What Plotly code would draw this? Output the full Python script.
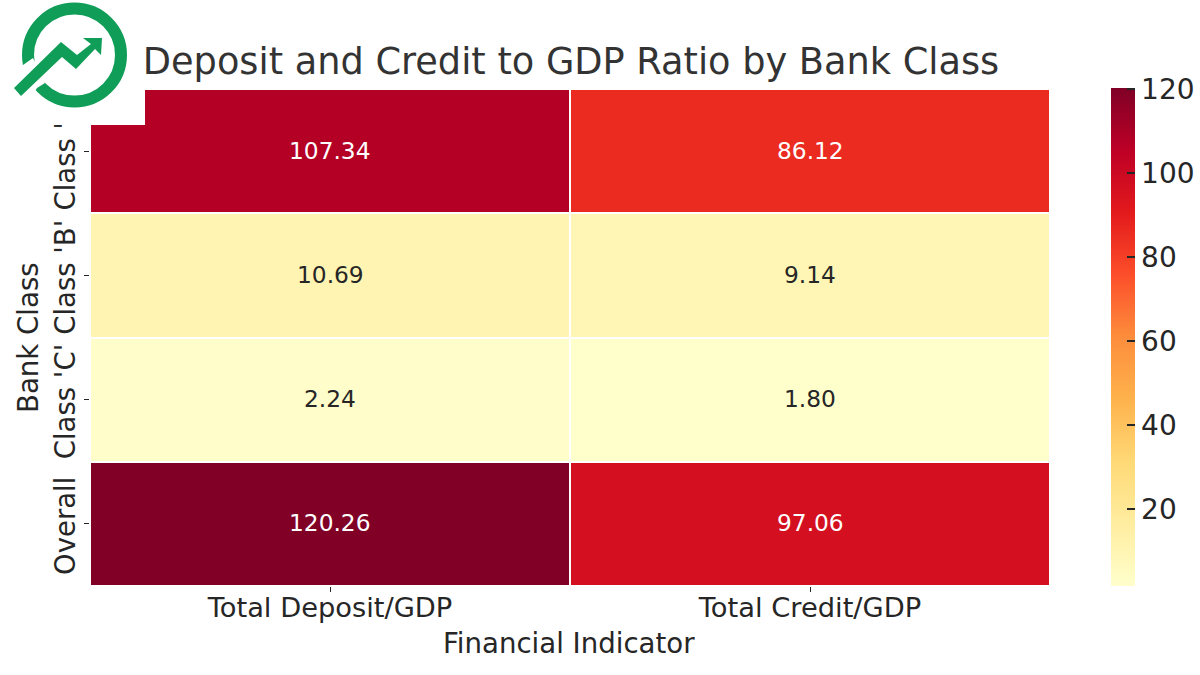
import plotly.graph_objects as go

indicators = ["Total Deposit/GDP", "Total Credit/GDP"]
bank_classes = ["Class 'A'", "Class 'B'", "Class 'C'", "Overall"]
deposit_gdp = [107.34, 10.69, 2.24, 120.26]
credit_gdp = [86.12, 9.14, 1.80, 97.06]
colorbar_ticks = [20, 40, 60, 80, 100, 120]

W, H = 1200, 675
LEFT, RIGHT, TOP, BOTTOM = 90, 1050, 89, 586  # plot area on the page
FONT = "DejaVu Sans"
INK = "#262626"
GREEN = "#0f9d58"
YLORRD = ["#ffffcc", "#ffeda0", "#fed976", "#feb24c", "#fd8d3c",
          "#fc4e2a", "#e31a1c", "#bd0026", "#800026"]


# page pixels to paper coordinates, paper runs over the plot area only
def px(x):
    return (x - LEFT) / (RIGHT - LEFT)


def py(y):
    return (BOTTOM - y) / (BOTTOM - TOP)


def path(points):
    parts = [f"{px(x):.5f},{py(y):.5f}" for x, y in points]
    return "M" + "L".join(parts) + "Z"


z = [[d, c] for d, c in zip(deposit_gdp, credit_gdp)]

fig = go.Figure(go.Heatmap(
    z=z, x=indicators, y=bank_classes,
    zmin=min(deposit_gdp + credit_gdp), zmax=max(deposit_gdp + credit_gdp),
    colorscale=YLORRD, xgap=2, ygap=2,
    colorbar=dict(
        xref="container", x=1111 / W, xanchor="left", y=0, yanchor="bottom",
        lenmode="pixels", len=498,
        thickness=24, xpad=0, ypad=0, outlinewidth=0,
        tickvals=colorbar_ticks, ticks="inside", ticklen=8, tickwidth=1.5,
        tickcolor=INK, tickfont=dict(family=FONT, size=28, color=INK),
    ),
))

# cell labels, white on the dark cells
for row, name in enumerate(bank_classes):
    for col, ind in enumerate(indicators):
        v = z[row][col]
        fig.add_annotation(x=ind, y=name, text=f"{v:.2f}", showarrow=False, yshift=1,
                           font=dict(family=FONT, size=23.3,
                                     color="white" if v > 60 else INK))

# axis titles
fig.add_annotation(xref="paper", yref="paper", x=px(569), y=py(643), text="Financial Indicator",
                   xanchor="center", yanchor="middle", showarrow=False,
                   font=dict(family=FONT, size=27.6, color=INK))
fig.add_annotation(xref="paper", yref="paper", x=px(28), y=py(337), text="Bank Class", textangle=-90,
                   xanchor="center", yanchor="middle", showarrow=False,
                   font=dict(family=FONT, size=27.6, color=INK))

# logo in the top left corner
fig.add_shape(type="rect", xref="paper", yref="paper", x0=px(0), x1=px(145),
              y0=py(125), y1=py(0), fillcolor="white", line_width=0, layer="above")
fig.add_shape(type="circle", xref="paper", yref="paper",
              x0=px(28), x1=px(121), y0=py(101.5), y1=py(8.5),
              fillcolor="rgba(0,0,0,0)", line=dict(color=GREEN, width=12), layer="above")
fig.add_shape(type="path", xref="paper", yref="paper", layer="above", line_width=0,
              fillcolor="white",
              path=path([(33, 58), (23, 65), (8, 70), (25, 108), (37, 88), (45, 83)]))
fig.add_shape(type="path", xref="paper", yref="paper", layer="above", line_width=0,
              fillcolor=GREEN,
              path=path([(14, 88), (61, 42), (77, 55), (91, 44), (83, 38), (102, 38),
                         (101, 55), (95, 49), (76, 69), (62, 57), (21, 96)]))

fig.update_layout(
    width=W, height=H, paper_bgcolor="white", plot_bgcolor="white",
    margin=dict(l=LEFT, r=W - RIGHT, t=TOP, b=H - BOTTOM),
    font=dict(family=FONT, color=INK),
    title=dict(text="Deposit and Credit to GDP Ratio by Bank Class",
               x=571 / W, xanchor="center", y=1 - 61 / H, yanchor="middle",
               font=dict(family=FONT, size=36.7, color="#333333")),
    xaxis=dict(tickfont=dict(size=27.3), ticks="outside", ticklen=5, tickcolor=INK,
               ticklabelstandoff=-8, showgrid=False, zeroline=False),
    yaxis=dict(tickfont=dict(size=27.5), tickangle=-90, ticks="outside", ticklen=5,
               ticklabelstandoff=-2, ticklabelshift=-6, tickcolor=INK, autorange="reversed",
               showgrid=False, zeroline=False),
)

# drop the browser's default page margin so the figure sits at the window corner
fig.write_html("out.html", config={"displayModeBar": False},
               post_script="document.body.style.margin = '0';")
